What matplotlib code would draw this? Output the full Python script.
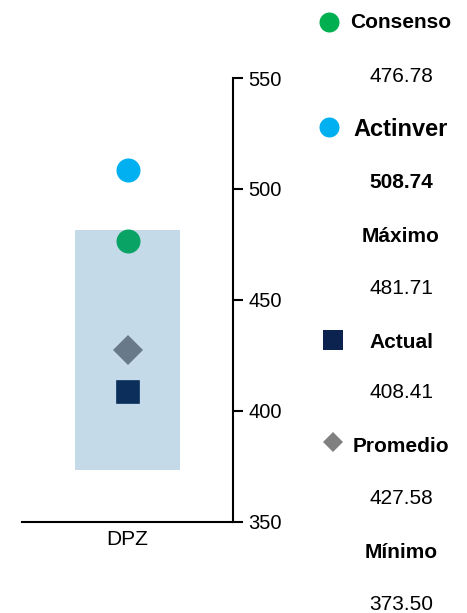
import matplotlib
matplotlib.use("Agg")
import matplotlib.pyplot as plt

plt.rcParams['font.family'] = ['Liberation Sans', 'DejaVu Sans']

# ─── Data ─────────────────────────────────────────────────────────────────────
categories = ["DPZ"]
maximo     = [481.71]
minimo     = [373.50]
consenso   = [476.78]
actinver   = [508.74]
actual     = [408.41]
promedio   = [427.58]

y_ticks = [350, 400, 450, 500, 550]

W, H = 467, 613
fig = plt.figure(figsize=(W / 100, H / 100), dpi=100)

# main axes (pixel box: x 22..233, y 78..522)
ax = fig.add_axes([22 / W, (H - 522) / H, (233 - 22) / W, (522 - 78) / H])
x = list(range(len(categories)))

heights = [mx - mn for mx, mn in zip(maximo, minimo)]
ax.bar(x, heights, bottom=minimo, width=0.5, color="#c5dae9", zorder=1)
ax.plot(x, actinver, "o", color="#00b0f0", ms=17.3, mew=0, zorder=3)
ax.plot(x, consenso, "o", color="#0aa366", ms=17.3, mew=0, zorder=3)
ax.plot(x, promedio, "D", color="#687a8a", ms=15.5, mew=0, zorder=3)
ax.plot(x, actual, "s", color="#0b2f5a", ms=16.5, mew=1.2, mec="#0b2f5a",
        zorder=3)

ax.set_xlim(-0.5, 0.5)
ax.set_ylim(350, 550)
ax.set_yticks(y_ticks)
ax.set_xticks(x)
ax.set_xticklabels(categories)

for s in ("left", "top"):
    ax.spines[s].set_visible(False)
for s in ("right", "bottom"):
    ax.spines[s].set_linewidth(1.5)
    ax.spines[s].set_color("#000000")

ax.yaxis.tick_right()
ax.tick_params(axis="y", direction="out", length=7, width=1.5,
               labelsize=14.5, pad=4, colors="#000000")
ax.tick_params(axis="x", length=0, labelsize=15, pad=6)

# ─── Right-hand legend column ────────────────────────────────────────────────
lg = fig.add_axes([0, 0, 1, 1])
lg.set_xlim(0, W)
lg.set_ylim(H, 0)
lg.axis("off")

cx = 401
lg.plot([329], [22], "o", color="#00b050", ms=14.4, mew=0)
lg.plot([329], [127], "o", color="#00b0f0", ms=14.4, mew=0)
lg.plot([333], [340], "s", color="#0c2350", ms=14.4, mew=0)
lg.plot([333], [442], "D", color="#808080", ms=9.8, mew=0)

rows = [
    ("Consenso", 23, "bold", 15),
    (f"{consenso[0]:.2f}", 76, "normal", 15),
    ("Actinver", 129, "bold", 17),
    (f"{actinver[0]:.2f}", 183, "bold", 15),
    ("Máximo", 237, "bold", 15),
    (f"{maximo[0]:.2f}", 289, "normal", 15),
    ("Actual", 342, "bold", 15),
    (f"{actual[0]:.2f}", 393, "normal", 15),
    ("Promedio", 447, "bold", 15),
    (f"{promedio[0]:.2f}", 499, "normal", 15),
    ("Mínimo", 552, "bold", 15),
    (f"{minimo[0]:.2f}", 604, "normal", 15),
]
for txt, y, wt, sz in rows:
    lg.text(cx, y, txt, ha="center", va="center", fontsize=sz,
            fontweight=wt, color="#000000")

fig.savefig("out.png", dpi=100)
